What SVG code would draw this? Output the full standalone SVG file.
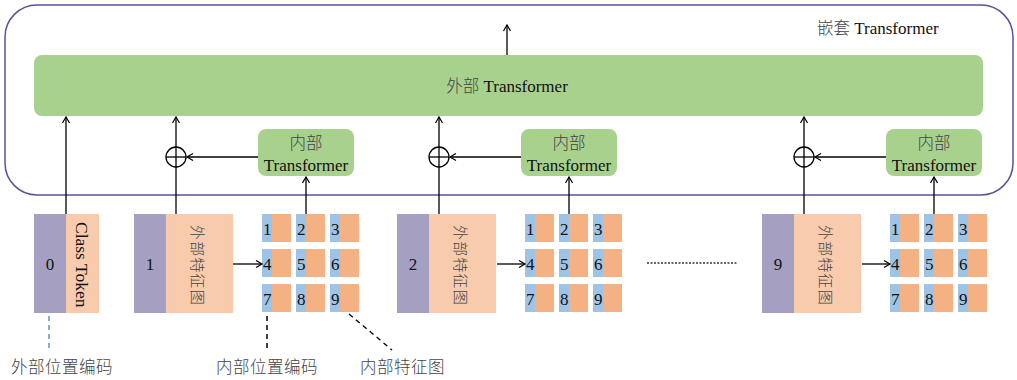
<svg xmlns="http://www.w3.org/2000/svg" width="1017" height="380" viewBox="0 0 1017 380">
<defs>
<style>
.outer{fill:none;stroke:#5a5196;stroke-width:1.5}
.green{fill:#a9d18e}
.purple{fill:#a5a0c1}
.lorange{fill:#f8cbad}
.porange{fill:#f4b183}
.blue{fill:#9dc3e6}
.ln{stroke:#000;stroke-width:1.3;fill:none}
.t{font-family:"Liberation Serif","Noto Sans CJK SC",serif;font-size:17px;fill:#111}
.cn{font-family:"Liberation Serif","Noto Sans CJK SC",serif;font-size:16.5px;fill:#444;font-weight:300}
.num{font-family:"Liberation Serif",serif;font-size:17px;fill:#111}
.c{text-anchor:middle}
</style>
<marker id="ah" markerUnits="userSpaceOnUse" markerWidth="10" markerHeight="10" refX="8" refY="5" orient="auto">
<path d="M2,1.5 L8,5 L2,8.5" fill="none" stroke="#000" stroke-width="1.2"/>
</marker>
<g id="patches">
<rect class="blue" x="0" y="0" width="10" height="28"/><rect class="porange" x="10" y="0" width="19" height="28"/>
<rect class="blue" x="34" y="0" width="10" height="28"/><rect class="porange" x="44" y="0" width="19" height="28"/>
<rect class="blue" x="68" y="0" width="10" height="28"/><rect class="porange" x="78" y="0" width="19" height="28"/>
<rect class="blue" x="0" y="35" width="10" height="28"/><rect class="porange" x="10" y="35" width="19" height="28"/>
<rect class="blue" x="34" y="35" width="10" height="28"/><rect class="porange" x="44" y="35" width="19" height="28"/>
<rect class="blue" x="68" y="35" width="10" height="28"/><rect class="porange" x="78" y="35" width="19" height="28"/>
<rect class="blue" x="0" y="70" width="10" height="28"/><rect class="porange" x="10" y="70" width="19" height="28"/>
<rect class="blue" x="34" y="70" width="10" height="28"/><rect class="porange" x="44" y="70" width="19" height="28"/>
<rect class="blue" x="68" y="70" width="10" height="28"/><rect class="porange" x="78" y="70" width="19" height="28"/>
<text class="num" x="1" y="21">1</text><text class="num" x="35" y="21">2</text><text class="num" x="69" y="21">3</text>
<text class="num" x="1" y="56">4</text><text class="num" x="35" y="56">5</text><text class="num" x="69" y="56">6</text>
<text class="num" x="1" y="91">7</text><text class="num" x="35" y="91">8</text><text class="num" x="69" y="91">9</text>
</g>
<g id="featmap">
<rect class="lorange" x="32" y="0" width="67" height="99"/>
<text class="cn" transform="translate(58,11) rotate(90)" style="font-size:15px;letter-spacing:1.2px">外部特征图</text>
</g>
<g id="inner">
<rect class="green" x="0" y="0" width="96" height="47" rx="8"/>
<text class="cn c" x="48" y="20">内部</text>
<text class="t c" x="48" y="42">Transformer</text>
</g>
</defs>

<g id="nested">
<rect class="outer" x="5" y="5" width="1008" height="190" rx="32"/>
<text class="t" x="817" y="34"><tspan class="cn">嵌套</tspan> Transformer</text>
</g>

<g id="outer-transformer">
<rect class="green" x="34" y="55" width="949" height="61" rx="8"/>
<text class="t c" x="507" y="92"><tspan class="cn">外部</tspan> Transformer</text>
</g>

<g id="token0">
<rect class="purple" x="34" y="214" width="32" height="99"/>
<rect class="lorange" x="66" y="214" width="33" height="99"/>
<text class="num c" x="50" y="270">0</text>
<text class="t" transform="translate(76,222) rotate(90)" style="font-size:17.5px">Class Token</text>
</g>

<g id="token1">
<rect class="purple" x="134" y="214" width="32" height="99"/>
<use href="#featmap" x="134" y="214"/>
<text class="num c" x="150" y="270">1</text>
</g>
<g id="patches1"><use href="#patches" x="262" y="214"/></g>
<g id="inner1"><use href="#inner" x="258" y="129"/></g>

<g id="token2">
<rect class="purple" x="397" y="214" width="32" height="99"/>
<use href="#featmap" x="397" y="214"/>
<text class="num c" x="413" y="270">2</text>
</g>
<g id="patches2"><use href="#patches" x="525" y="214"/></g>
<g id="inner2"><use href="#inner" x="521" y="129"/></g>

<g id="token9">
<rect class="purple" x="762" y="214" width="32" height="99"/>
<use href="#featmap" x="762" y="214"/>
<text class="num c" x="778" y="270">9</text>
</g>
<g id="patches9"><use href="#patches" x="890" y="214"/></g>
<g id="inner9"><use href="#inner" x="886" y="129"/></g>

<g id="connectors">
<line class="ln" x1="507" y1="55" x2="507" y2="25" marker-end="url(#ah)"/>
<line class="ln" x1="66" y1="214" x2="66" y2="117" marker-end="url(#ah)"/>

<line class="ln" x1="176" y1="214" x2="176" y2="117" marker-end="url(#ah)"/>
<circle class="ln" cx="176" cy="157" r="10"/>
<line class="ln" x1="166" y1="157" x2="186" y2="157"/>
<line class="ln" x1="258" y1="157" x2="187" y2="157" marker-end="url(#ah)"/>
<line class="ln" x1="306" y1="214" x2="306" y2="177" marker-end="url(#ah)"/>
<line class="ln" x1="233" y1="264" x2="262" y2="264" marker-end="url(#ah)"/>

<line class="ln" x1="439" y1="214" x2="439" y2="117" marker-end="url(#ah)"/>
<circle class="ln" cx="439" cy="157" r="10"/>
<line class="ln" x1="429" y1="157" x2="449" y2="157"/>
<line class="ln" x1="521" y1="157" x2="450" y2="157" marker-end="url(#ah)"/>
<line class="ln" x1="569" y1="214" x2="569" y2="177" marker-end="url(#ah)"/>
<line class="ln" x1="497" y1="264" x2="525" y2="264" marker-end="url(#ah)"/>

<line class="ln" x1="804" y1="214" x2="804" y2="117" marker-end="url(#ah)"/>
<circle class="ln" cx="804" cy="157" r="10"/>
<line class="ln" x1="794" y1="157" x2="814" y2="157"/>
<line class="ln" x1="886" y1="157" x2="815" y2="157" marker-end="url(#ah)"/>
<line class="ln" x1="934" y1="214" x2="934" y2="177" marker-end="url(#ah)"/>
<line class="ln" x1="862" y1="264" x2="890" y2="264" marker-end="url(#ah)"/>

<line x1="647" y1="263" x2="737" y2="263" stroke="#333" stroke-width="1.3" stroke-dasharray="2,1.5"/>

<line x1="49" y1="316" x2="49" y2="352" stroke="#4f81bd" stroke-width="1.3" stroke-dasharray="5,4"/>
<line x1="267" y1="316" x2="267" y2="351" stroke="#000" stroke-width="1.5" stroke-dasharray="5,4"/>
<line x1="349" y1="314" x2="392" y2="350" stroke="#000" stroke-width="1.3" stroke-dasharray="5,4"/>
</g>

<g id="labels">
<text class="cn" x="11" y="373" style="letter-spacing:0.5px">外部位置编码</text>
<text class="cn" x="216" y="373" style="letter-spacing:0.5px">内部位置编码</text>
<text class="cn" x="360" y="373" style="letter-spacing:0.5px">内部特征图</text>
</g>
</svg>
